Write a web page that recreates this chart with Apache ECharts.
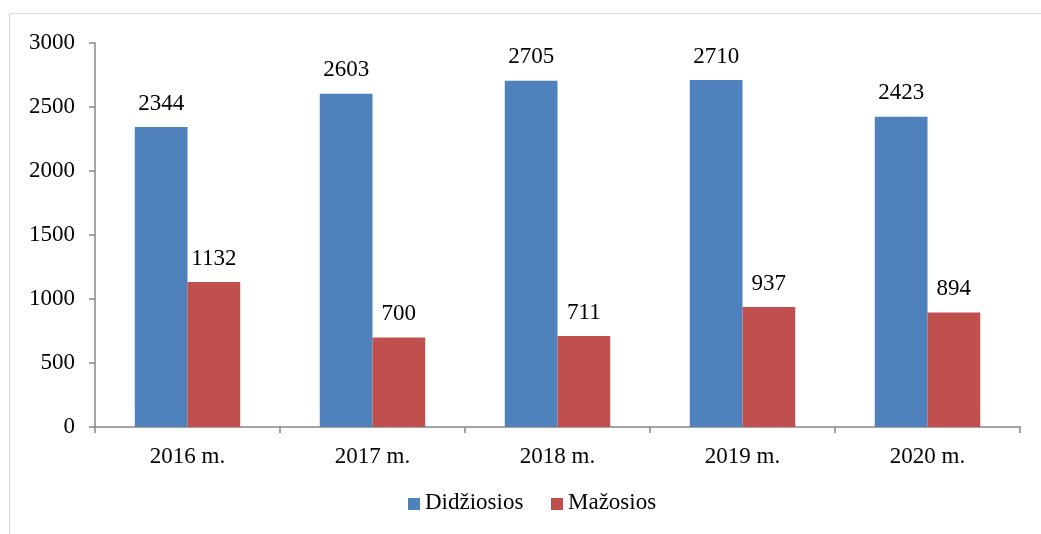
<!DOCTYPE html>
<html><head><meta charset="utf-8">
<script src="https://cdn.jsdelivr.net/npm/echarts@6/dist/echarts.min.js"></script>
<style>html,body{margin:0;padding:0;background:#fff}#c{width:1041px;height:534px}</style>
</head><body><div id="c"></div>
<script>
var categories = ['2016 m.', '2017 m.', '2018 m.', '2019 m.', '2020 m.'];
var didziosios = [2344, 2603, 2705, 2710, 2423];
var mazosios = [1132, 700, 711, 937, 894];
var seriesNames = ['Did\u017eiosios', 'Ma\u017eosios'];
var colors = ['#4f81bd', '#c0504d'];

var font = 'Liberation Serif';
var fs = 23;
var chart = echarts.init(document.getElementById('c'));
chart.setOption({
  animation: false,
  textStyle: {fontFamily: font},
  graphic: [
    {type: 'rect', silent: true, shape: {x: 9.5, y: 13.5, width: 1040, height: 530}, style: {fill: 'none', stroke: '#d9d9d9', lineWidth: 1}},
    {type: 'rect', left: 408, top: 498, shape: {width: 12, height: 12}, style: {fill: colors[0]}},
    {type: 'text', left: 425, top: 491, style: {text: seriesNames[0], fontFamily: 'Liberation Serif', fontSize: fs, fill: '#000'}},
    {type: 'rect', left: 551, top: 498, shape: {width: 12, height: 12}, style: {fill: colors[1]}},
    {type: 'text', left: 568, top: 491, style: {text: seriesNames[1], fontFamily: 'Liberation Serif', fontSize: fs, fill: '#000'}}
  ],
  grid: {left: 95, right: 21, top: 43, bottom: 107, containLabel: false},
  legend: {show: false, data: seriesNames},
  xAxis: {
    type: 'category', data: categories,
    axisLine: {lineStyle: {color: '#868686', width: 1.5}},
    axisTick: {show: true, length: 6, inside: false, lineStyle: {color: '#868686', width: 1.5}},
    axisLabel: {fontFamily: font, fontSize: fs, color: '#000', margin: 18}
  },
  yAxis: {
    type: 'value', min: 0, max: 3000, interval: 500,
    axisLine: {show: true, lineStyle: {color: '#868686', width: 1.5}},
    axisTick: {show: true, length: 6, lineStyle: {color: '#868686', width: 1.5}},
    splitLine: {show: false},
    axisLabel: {fontFamily: font, fontSize: fs, color: '#000', margin: 20, formatter: function (v) { return String(v); }}
  },
  series: [
    {name: seriesNames[0], type: 'bar', data: didziosios, barGap: '0%', barCategoryGap: '43%',
     itemStyle: {color: colors[0]},
     label: {show: true, position: 'top', distance: 12, fontFamily: font, fontSize: fs, color: '#000'}},
    {name: seriesNames[1], type: 'bar', data: mazosios,
     itemStyle: {color: colors[1]},
     label: {show: true, position: 'top', distance: 12, fontFamily: font, fontSize: fs, color: '#000'}}
  ]
});
</script></body></html>
